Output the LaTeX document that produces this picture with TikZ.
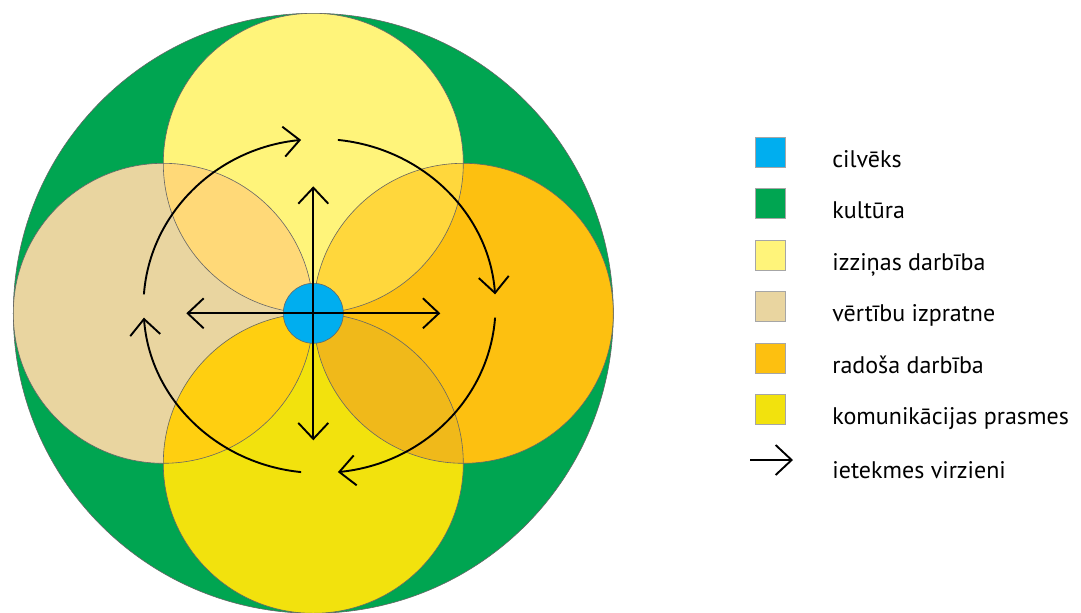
\documentclass[tikz,border=0pt]{standalone}
\usepackage{fontspec}
\setmainfont{PT Sans}
\usetikzlibrary{arrows.meta}
\definecolor{kultura}{HTML}{00A551}
\definecolor{cilveks}{HTML}{00AEEF}
\definecolor{izzinas}{HTML}{FFF47A}
\definecolor{vertibu}{HTML}{E9D5A0}
\definecolor{radosa}{HTML}{FDC010}
\definecolor{komunik}{HTML}{F2E20D}
\definecolor{lensTL}{HTML}{FFD978}
\definecolor{lensTR}{HTML}{FFD73C}
\definecolor{lensBL}{HTML}{FFCF10}
\definecolor{lensBR}{HTML}{F0B91A}

\begin{document}
\begin{tikzpicture}[x=0.5pt,y=0.5pt,
  ring/.style={draw=black!60, line width=0.3pt},
  flow/.style={black, line width=0.95pt, -{Straight Barb[length=8pt,width=15pt]}},
  key/.style={draw=black!35, line width=0.4pt, minimum size=15pt, inner sep=0pt},
  keytext/.style={anchor=base west, inner sep=0pt, font=\fontsize{12}{14}\selectfont}]

\useasboundingbox (-313.3,-298.7) rectangle (767.7,313.3);

\coordinate (mid) at (0,0);
\coordinate (top) at (0,150);
\coordinate (left) at (-150,0);
\coordinate (right) at (150,0);
\coordinate (bottom) at (0,-150);
\coordinate (ctr) at (6.2,7.3);

% culture
\fill[kultura] (mid) circle[radius=300];
\draw[ring] (mid) circle[radius=300];

% four activities
\fill[izzinas] (top) circle[radius=150];
\fill[vertibu] (left) circle[radius=150];
\fill[radosa] (right) circle[radius=150];
\fill[komunik] (bottom) circle[radius=150];

% overlaps
\begin{scope}
  \clip (top) circle[radius=150];
  \fill[lensTL] (left) circle[radius=150];
  \fill[lensTR] (right) circle[radius=150];
\end{scope}
\begin{scope}
  \clip (bottom) circle[radius=150];
  \fill[lensBL] (left) circle[radius=150];
  \fill[lensBR] (right) circle[radius=150];
\end{scope}

\draw[ring] (top) circle[radius=150];
\draw[ring] (left) circle[radius=150];
\draw[ring] (right) circle[radius=150];
\draw[ring] (bottom) circle[radius=150];

% person
\fill[cilveks] (mid) circle[radius=30];
\draw[ring] (mid) circle[radius=30];

% directions
\coordinate (up) at (0,127);
\coordinate (down) at (0,-127);
\coordinate (west) at (-127,0);
\coordinate (east) at (127,0);
\draw[flow] (mid) -- (up);
\draw[flow] (mid) -- (down);
\draw[flow] (mid) -- (west);
\draw[flow] (mid) -- (east);

\draw[flow] ([shift={(176:176 and 167)}]ctr) arc[start angle=176, end angle=96, x radius=176, y radius=167];
\draw[flow] ([shift={(84:176 and 167)}]ctr) arc[start angle=84, end angle=4, x radius=176, y radius=167];
\draw[flow] ([shift={(-4:176 and 167)}]ctr) arc[start angle=-4, end angle=-84, x radius=176, y radius=167];
\draw[flow] ([shift={(-96:176 and 167)}]ctr) arc[start angle=-96, end angle=-176, x radius=176, y radius=167];

% legend
\node[key, fill=cilveks] (k1) at (456.7,161.3) {};
\node[key, fill=kultura] (k2) at (456.7,110.3) {};
\node[key, fill=izzinas] (k3) at (456.7,58.3) {};
\node[key, fill=vertibu] (k4) at (456.7,7.3) {};
\node[key, fill=radosa] (k5) at (456.7,-44.7) {};
\node[key, fill=komunik] (k6) at (456.7,-95.7) {};
\coordinate (k7a) at (436.7,-146.7);
\coordinate (k7b) at (479.7,-146.7);
\draw[flow] (k7a) -- (k7b);

\node[keytext] (t1) at (518.7,146.3) {cilvēks};
\node[keytext] (t2) at (518.7,95.3) {kultūra};
\node[keytext] (t3) at (518.7,43.3) {izziņas darbība};
\node[keytext] (t4) at (518.7,-7.7) {vērtību izpratne};
\node[keytext] (t5) at (518.7,-59.7) {radoša darbība};
\node[keytext] (t6) at (518.7,-110.7) {komunikācijas prasmes};
\node[keytext] (t7) at (518.7,-164.7) {ietekmes virzieni};

\end{tikzpicture}
\end{document}
